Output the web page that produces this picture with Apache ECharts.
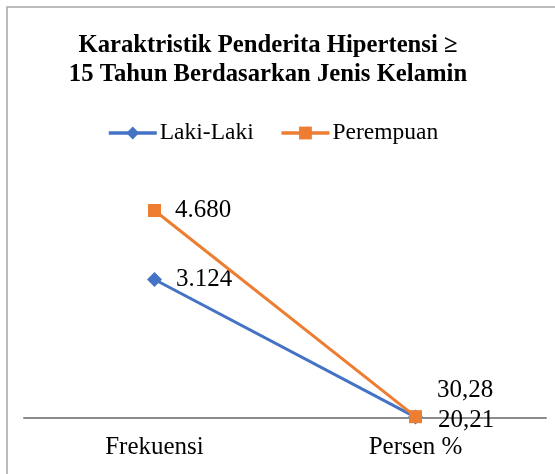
<!DOCTYPE html>
<html>
<head>
<meta charset="utf-8">
<script src="https://cdn.jsdelivr.net/npm/echarts@6/dist/echarts.min.js"></script>
<style>
html,body{margin:0;padding:0;background:#fff;}
#c{width:555px;height:474px;}
</style>
</head>
<body>
<div id="c"></div>
<script>
const categories = ['Frekuensi', 'Persen %'];
const lakiLaki = [3124, 20.21];
const perempuan = [4680, 30.28];
const seriesNames = ['Laki-Laki', 'Perempuan'];
const titleText = 'Karaktristik Penderita Hipertensi \u2265\n15 Tahun Berdasarkan Jenis Kelamin';

function fmtID(v) {
  let s;
  if (Number.isInteger(v)) {
    s = String(v).replace(/\B(?=(\d{3})+(?!\d))/g, '.');
  } else {
    s = v.toFixed(2).replace('.', ',');
  }
  return s;
}

const FONT = '"Liberation Serif", "Times New Roman", serif';
const chart = echarts.init(document.getElementById('c'), null, {renderer: 'canvas'});

const labelBase = {
  show: true,
  position: 'right',
  distance: 14,
  fontFamily: FONT,
  fontSize: 25,
  color: '#000',
  formatter: p => fmtID(p.value)
};

chart.setOption({
  animation: false,
  backgroundColor: '#fff',
  graphic: [{
    type: 'rect',
    shape: {x: 7, y: 7, width: 700, height: 700},
    style: {fill: 'none', stroke: '#a6a6a6', lineWidth: 1.5},
    silent: true
  }],
  title: {
    text: titleText,
    left: 268,
    textAlign: 'center',
    top: 31,
    padding: 0,
    textStyle: {
      fontFamily: FONT,
      fontSize: 24.7,
      fontWeight: 'bold',
      color: '#000',
      lineHeight: 29
    }
  },
  legend: {
    top: 116,
    left: 102,
    padding: 5,
    itemWidth: 48,
    itemHeight: 16,
    itemGap: 26,
    lineStyle: {width: 3.5},
    textStyle: {fontFamily: FONT, fontSize: 23.5, color: '#000', padding: [0, 0, 0, -2]},
    data: seriesNames
  },
  grid: {left: 24, right: 9, top: 152, bottom: 56},
  xAxis: {
    type: 'category',
    data: categories,
    boundaryGap: true,
    axisLine: {lineStyle: {color: '#8c8c8c', width: 2}},
    axisTick: {show: false},
    axisLabel: {fontFamily: FONT, fontSize: 25, color: '#000', margin: 17}
  },
  yAxis: {
    type: 'value',
    min: 0,
    max: 6000,
    show: false,
    splitLine: {show: false}
  },
  series: [
    {
      name: seriesNames[0],
      type: 'line',
      data: [
        {value: lakiLaki[0]},
        {value: lakiLaki[1], label: {offset: [1, 3]}}
      ],
      symbol: 'diamond',
      symbolSize: 15,
      lineStyle: {color: '#4472C4', width: 3},
      itemStyle: {color: '#4472C4'},
      label: labelBase,
      z: 2
    },
    {
      name: seriesNames[1],
      type: 'line',
      data: [
        {value: perempuan[0]},
        {value: perempuan[1], label: {offset: [1, -26]}}
      ],
      symbol: 'rect',
      symbolSize: 13,
      lineStyle: {color: '#ED7D31', width: 3},
      itemStyle: {color: '#ED7D31'},
      label: labelBase,
      z: 3
    }
  ]
});
</script>
</body>
</html>
